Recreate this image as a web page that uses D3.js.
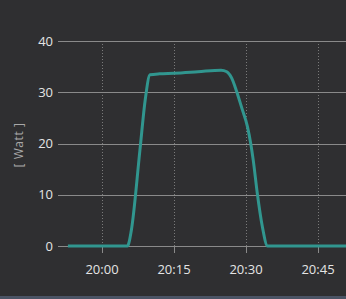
<!DOCTYPE html>
<html>
<head>
<meta charset="utf-8">
<script src="https://cdn.jsdelivr.net/npm/d3@7"></script>
<style>
  html, body { margin: 0; padding: 0; background: #2f2f31; }
  svg { display: block; }
</style>
</head>
<body>
<div id="chart"></div>
<script>
// minutes after 20:00 and power in watts
const minutes = [-7.1, 5.3, 6.1, 7.9, 9.0, 10.0, 12, 15, 20, 24.8, 26.0, 27.0, 28.0, 29.1, 30.3, 31.0, 31.5, 32.35, 33.4, 34.5, 51]
const watts   = [0, 0, 3, 18.7, 28.5, 33.4, 33.6, 33.7, 34.0, 34.3, 34.0, 32.8, 30.3, 27.0, 23.3, 19.9, 16.8, 10.3, 3.8, 0, 0]
const yTicks = [0, 10, 20, 30, 40]
const axisLabel = '[ Watt ]'

const width = 346, height = 299
const base = new Date(2020, 0, 1, 20, 0, 0)
const t = (m) => new Date(base.getTime() + m * 60000)

const data = minutes.map((m, i) => ({ time: t(m), value: watts[i] }))

const svg = d3.select('#chart')
    .append('svg')
    .attr('width', width)
    .attr('height', height)

svg.append('rect')
    .attr('width', width)
    .attr('height', height)
    .attr('fill', '#2f2f31')

// thin bluish strip at the bottom
svg.append('rect')
    .attr('y', height - 3)
    .attr('width', width)
    .attr('height', 3)
    .attr('fill', '#4b5465')

const x = d3.scaleTime()
    .domain([t(-9.167), t(50.833)])
    .range([58, 346])

const y = d3.scaleLinear()
    .domain([0, 40])
    .range([246, 41])

// vertical dotted grid
const xTicks = d3.timeMinute.every(15).range(t(-1), t(50))
svg.selectAll('line.vgrid')
    .data(xTicks)
    .enter()
    .append('line')
    .attr('x1', (d) => Math.round(x(d)) + 0.5)
    .attr('x2', (d) => Math.round(x(d)) + 0.5)
    .attr('y1', y(40))
    .attr('y2', y(0))
    .attr('stroke', '#7a7a7a')
    .attr('stroke-dasharray', '1,2')

// horizontal grid
svg.selectAll('line.hgrid')
    .data(yTicks)
    .enter()
    .append('line')
    .attr('x1', 58)
    .attr('x2', width)
    .attr('y1', (d) => Math.round(y(d)) + 0.5)
    .attr('y2', (d) => Math.round(y(d)) + 0.5)
    .attr('stroke', '#8a8a8a')

// x tick marks
svg.selectAll('line.xtick')
    .data(xTicks)
    .enter()
    .append('line')
    .attr('x1', (d) => Math.round(x(d)) + 0.5)
    .attr('x2', (d) => Math.round(x(d)) + 0.5)
    .attr('y1', y(0))
    .attr('y2', y(0) + 7)
    .attr('stroke', '#8a8a8a')

// y labels
svg.selectAll('text.ylab')
    .data(yTicks)
    .enter()
    .append('text')
    .attr('x', 53)
    .attr('y', (d) => y(d) + 4.5)
    .attr('text-anchor', 'end')
    .attr('fill', '#e4e4e4')
    .style('font', '13px "Open Sans", sans-serif')
    .text((d) => d)

// x labels
svg.selectAll('text.xlab')
    .data(xTicks)
    .enter()
    .append('text')
    .attr('x', (d) => x(d))
    .attr('y', 274)
    .attr('text-anchor', 'middle')
    .attr('fill', '#e4e4e4')
    .style('font', '13px "Open Sans", sans-serif')
    .text(d3.timeFormat('%H:%M'))

svg.append('text')
    .attr('transform', 'translate(23,145) rotate(-90)')
    .attr('text-anchor', 'middle')
    .attr('fill', '#a8a8a8')
    .style('font', '12px "Open Sans", sans-serif')
    .style('letter-spacing', '0.6px')
    .text(axisLabel)

const line = d3.line()
    .x((d) => x(d.time))
    .y((d) => y(d.value))
    .curve(d3.curveMonotoneX)

svg.append('path')
    .datum(data)
    .attr('d', line)
    .attr('fill', 'none')
    .attr('stroke', '#31968f')
    .attr('stroke-width', 3)
    .attr('stroke-linejoin', 'round')
</script>
</body>
</html>
